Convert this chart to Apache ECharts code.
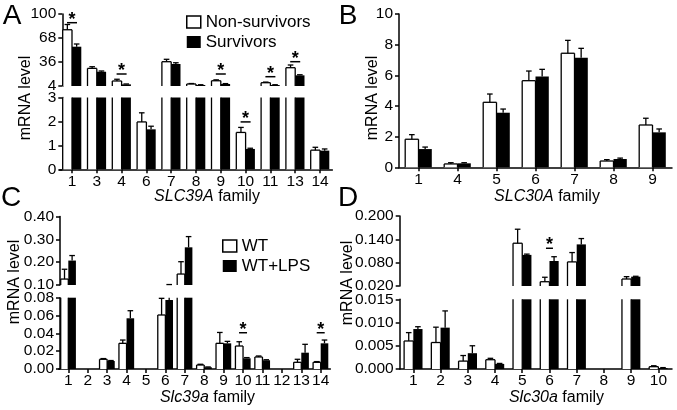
<!DOCTYPE html>
<html><head><meta charset="utf-8">
<script src="https://cdn.jsdelivr.net/npm/echarts@6/dist/echarts.min.js"></script>
<style>html,body{margin:0;padding:0;background:#fff}#c{width:677px;height:410px}</style>
</head><body><div id="c"></div>
<script>
// ---------- Panel A : SLC39A family (human) ----------
const aCats = ['1','3','4','6','7','8','9','10','11','13','14'];
const aNon = [79, 27.5, 10.7, 1.98, 36.4, 6.7, 11, 1.54, 8.4, 28.4, 0.8];
const aNonErr = [7, 2.2, 2.3, 0.38, 3.2, 0.6, 1.2, 0.21, 0.8, 3.6, 0.12];
const aSurv = [56.4, 23, 6.2, 1.67, 33.3, 5.3, 6.7, 0.85, 5.3, 18.2, 0.78];
const aSurvErr = [3.6, 1, 0.5, 0.13, 1.7, 0.4, 0.5, 0.03, 0.4, 0.8, 0.07];
const aSigUpperCats = ['1','4','9','11','13'];
const aSigUpperY = [88.4, 20, 20, 16.4, 36.4];
const aSigLowerCats = ['10'];
const aSigLowerY = [1.98];
const aUpperTicks = [4, 100, 32];   // min, max, interval
const aLowerTicks = [0, 3, 1];

// ---------- Panel B : SLC30A family (human) ----------
const bCats = ['1','4','5','6','7','8','9'];
const bNon = [1.83, 0.22, 4.24, 5.65, 7.44, 0.41, 2.76];
const bNonErr = [0.3, 0.08, 0.54, 0.63, 0.84, 0.09, 0.44];
const bSurv = [1.19, 0.26, 3.56, 5.93, 7.15, 0.54, 2.28];
const bSurvErr = [0.13, 0.04, 0.24, 0.46, 0.61, 0.06, 0.22];
const bTicks = [0, 10, 2];

// ---------- Panel C : Slc39a family (mouse) ----------
const cCats = ['1','2','3','4','5','6','7','8','9','10','11','12','13','14'];
const cWT = [0.126, null, 0.0109, 0.0288, null, 0.0606, 0.148, 0.0045, 0.0288, 0.0258, 0.0135, null, 0.0075, 0.0075];
const cWTErr = [0.043, null, 0.0008, 0.0037, null, 0.0187, 0.054, 0.0008, 0.0122, 0.0048, 0.0011, null, 0.0034, 0.0008];
const cLPS = [0.207, null, 0.009, 0.0569, null, 0.0774, 0.265, 0.002, 0.0288, 0.012, 0.0098, null, 0.0183, 0.0288];
const cLPSErr = [0.022, null, 0.0005, 0.0085, null, 0.0246, 0.047, 0.0003, 0.0022, 0.0008, 0.0006, null, 0.0094, 0.0037];
const cSigLowerCats = ['10','14'];
const cSigLowerY = [0.0407, 0.0407];
const cUpperTicks = [0.1, 0.4, 0.1];
const cLowerTicks = [0, 0.08, 0.02];

// ---------- Panel D : Slc30a family (mouse) ----------
const dCats = ['1','2','3','4','5','6','7','8','9','10'];
const dWT = [0.00603, 0.0057, 0.0017, 0.002, 0.13, 0.031, 0.082, null, 0.038, 0.0005];
const dWTErr = [0.0018, 0.0033, 0.0012, 0.0003, 0.036, 0.0115, 0.024, null, 0.006, 0.0002];
const dLPS = [0.0086, 0.0089, 0.0034, 0.0011, 0.1, 0.0843, 0.127, null, 0.044, 0.0002];
const dLPSErr = [0.0005, 0.0036, 0.0016, 0.0001, 0.002, 0.011, 0.015, null, 0.001, 0.0001];
const dSigUpperCats = ['6'];
const dSigUpperY = [0.117];
const dUpperTicks = [0.02, 0.2, 0.06];
const dLowerTicks = [0, 0.015, 0.005];

const FONT = '"Liberation Sans", Arial, Helvetica, sans-serif';
const TICKFS = 15.5;
const grids = [], xAxes = [], yAxes = [], series = [];

function addGrid(g) {
  const idx = grids.length;
  grids.push({left: g.left, top: g.top, width: g.width, height: g.height, outerBoundsMode: 'none', containLabel: false});
  xAxes.push({
    type: 'category', gridIndex: idx, data: g.cats, show: g.showX,
    axisLine: {show: true, lineStyle: {color: '#000', width: 1.5}},
    axisTick: {show: true, alignWithLabel: true, length: 4, lineStyle: {color: '#000', width: 1.5}},
    axisLabel: {show: true, interval: 0, margin: 4, color: '#000', fontSize: TICKFS, fontFamily: FONT},
    splitLine: {show: false}
  });
  yAxes.push({
    type: 'value', gridIndex: idx, min: g.ticks[0], max: g.ticks[1], interval: g.ticks[2],
    offset: g.yOffset || 0,
    axisLine: {show: true, lineStyle: {color: '#000', width: 1.5}},
    axisTick: {show: true, length: 4, lineStyle: {color: '#000', width: 1.5}},
    axisLabel: {show: true, margin: 6, color: '#000', fontSize: TICKFS, fontFamily: FONT,
      formatter: v => g.dec ? Number(v).toFixed(g.dec) : String(Math.round(v))},
    splitLine: {show: false}
  });
  return idx;
}

function addBars(idx, name, data, white, bw) {
  series.push({
    type: 'bar', name, xAxisIndex: idx, yAxisIndex: idx, data: data.map(v => v == null ? '-' : v),
    barWidth: bw, barGap: '0%', clip: true, silent: true,
    itemStyle: white ? {color: '#fff', borderWidth: 0} : {color: '#000', borderWidth: 0}
  });
}

// outline of the open (white) bars, clipped to the grid so broken bars stay open at the break
function addOutline(idx, vals, bw) {
  const data = [];
  vals.forEach((v, i) => { if (v != null) data.push([i, v]); });
  series.push({
    type: 'custom', xAxisIndex: idx, yAxisIndex: idx, data, silent: true, z: 3,
    renderItem(params, api) {
      const cs = params.coordSys;
      const top = cs.y, bot = cs.y + cs.height;
      const cv = api.coord([api.value(0), api.value(1)]);
      const c0 = api.coord([api.value(0), 0]);
      const x1 = cv[0] - bw, x2 = cv[0];
      const yt = Math.max(Math.min(cv[1], bot), top);
      const yb = Math.max(Math.min(c0[1], bot), top);
      const ch = [];
      const st = {stroke: '#000', lineWidth: 1.3, fill: null};
      if (yb - yt > 0.2) {
        ch.push({type: 'line', shape: {x1: x1, y1: yb, x2: x1, y2: yt}, style: st});
        ch.push({type: 'line', shape: {x1: x2, y1: yb, x2: x2, y2: yt}, style: st});
        if (cv[1] >= top && cv[1] <= bot) ch.push({type: 'line', shape: {x1: x1, y1: cv[1], x2: x2, y2: cv[1]}, style: st});
      }
      return {type: 'group', children: ch};
    }
  });
}

function addErr(idx, vals, errs, side, bw) {
  const data = [];
  vals.forEach((v, i) => { if (v != null) data.push([i, v, v + errs[i]]); });
  series.push({
    type: 'custom', xAxisIndex: idx, yAxisIndex: idx, data, silent: true, z: 3,
    renderItem(params, api) {
      const cs = params.coordSys;
      const c0 = api.coord([api.value(0), api.value(1)]);
      const c1 = api.coord([api.value(0), api.value(2)]);
      const x = c0[0] + side * bw / 2;
      const top = cs.y, bot = cs.y + cs.height;
      const ya = Math.max(Math.min(c0[1], bot), top);
      const yb = Math.max(Math.min(c1[1], bot), top);
      const ch = [];
      const st = {stroke: '#000', lineWidth: 1.3, fill: null};
      if (ya - yb > 0.2) ch.push({type: 'line', shape: {x1: x, y1: ya, x2: x, y2: yb}, style: st});
      if (c1[1] >= top - 0.5 && c1[1] <= bot) ch.push({type: 'line', shape: {x1: x - 2.8, y1: c1[1], x2: x + 2.8, y2: c1[1]}, style: st});
      return {type: 'group', children: ch};
    }
  });
}

function addSig(idx, cats, ys, catList, halfW) {
  const data = cats.map((c, i) => [catList.indexOf(c), ys[i]]);
  series.push({
    type: 'custom', xAxisIndex: idx, yAxisIndex: idx, data, silent: true, z: 4,
    renderItem(params, api) {
      const p = api.coord([api.value(0), api.value(1)]);
      return {type: 'group', children: [
        {type: 'line', shape: {x1: p[0] - halfW, y1: p[1], x2: p[0] + halfW, y2: p[1]}, style: {stroke: '#000', lineWidth: 1.5}},
        {type: 'text', x: p[0], y: p[1] - 3, style: {text: '*', x: 0, y: 0, fill: '#000',
          font: 'bold 18px ' + FONT, textAlign: 'center', textVerticalAlign: 'middle', align: 'center', verticalAlign: 'middle'}}
      ]};
    }
  });
}

function panel(p) {
  p.parts.forEach(part => {
    const idx = addGrid(Object.assign({cats: p.cats, left: p.left, width: p.width, yOffset: p.yOffset, dec: p.dec}, part));
    p.bars.forEach((b, k) => addBars(idx, b[0], b[1], k === 0, p.bw));
    addOutline(idx, p.bars[0][1], p.bw);
    p.bars.forEach((b, k) => addErr(idx, b[1], b[2], k === 0 ? -1 : 1, p.bw));
    if (part.sig) addSig(idx, part.sig[0], part.sig[1], p.cats, p.sigW);
  });
}

panel({cats: aCats, left: 59.6, width: 272.8, yOffset: -2.7, bw: 9.3, sigW: 5, dec: 0,
  bars: [['Non-survivors', aNon, aNonErr], ['Survivors', aSurv, aSurvErr]],
  parts: [
    {top: 14, height: 72, ticks: aUpperTicks, showX: false, sig: [aSigUpperCats, aSigUpperY]},
    {top: 97.5, height: 71.8, ticks: aLowerTicks, showX: true, sig: [aSigLowerCats, aSigLowerY]}
  ]});
panel({cats: bCats, left: 399, width: 273, yOffset: 0, bw: 13.3, sigW: 5, dec: 0,
  bars: [['Non-survivors', bNon, bNonErr], ['Survivors', bSurv, bSurvErr]],
  parts: [{top: 14, height: 153.3, ticks: bTicks, showX: true}]});
panel({cats: cCats, left: 58.6, width: 271.8, yOffset: -1.4, bw: 7.6, sigW: 4, dec: 2,
  bars: [['WT', cWT, cWTErr], ['WT+LPS', cLPS, cLPSErr]],
  parts: [
    {top: 216.5, height: 68.5, ticks: cUpperTicks, showX: false},
    {top: 297.7, height: 71.3, ticks: cLowerTicks, showX: true, sig: [cSigLowerCats, cSigLowerY]}
  ]});
panel({cats: dCats, left: 399.7, width: 272.3, yOffset: 0, bw: 9.2, sigW: 3.5, dec: 3,
  bars: [['WT', dWT, dWTErr], ['WT+LPS', dLPS, dLPSErr]],
  parts: [
    {top: 216, height: 70, ticks: dUpperTicks, showX: false, sig: [dSigUpperCats, dSigUpperY]},
    {top: 299.3, height: 69.7, ticks: dLowerTicks, showX: true}
  ]});

function txt(x, y, text, size, opts) {
  return Object.assign({type: 'text', x, y, silent: true, style: Object.assign({
    text, fill: '#000', fontSize: size, fontFamily: FONT,
    textAlign: 'center', textVerticalAlign: 'middle'}, (opts && opts.style) || {})}, (opts && opts.el) || {});
}
const ital = {i: {fontStyle: 'italic', fontSize: 16, fontFamily: FONT, fill: '#000'}, n: {fontSize: 16, fontFamily: FONT, fill: '#000'}};
const graphic = [
  txt(12, 16, 'A', 28), txt(348, 16, 'B', 28), txt(11, 198, 'C', 28), txt(348, 198, 'D', 28),
  txt(26, 98, 'mRNA level', 16, {el: {rotation: Math.PI / 2}}),
  txt(372.5, 98, 'mRNA level', 16, {el: {rotation: Math.PI / 2}}),
  txt(15, 282, 'mRNA level', 16, {el: {rotation: Math.PI / 2}}),
  txt(347.5, 283, 'mRNA level', 16, {el: {rotation: Math.PI / 2}}),
  txt(207, 197, '{i|SLC39A}{n| family}', 16, {style: {rich: ital}}),
  txt(547, 197, '{i|SLC30A}{n| family}', 16, {style: {rich: ital}}),
  txt(207.5, 398, '{i|Slc39a}{n| family}', 16, {style: {rich: ital}}),
  txt(556.5, 398, '{i|Slc30a}{n| family}', 16, {style: {rich: ital}})
];

const legendBase = {orient: 'vertical', itemWidth: 14, itemHeight: 12, itemGap: 2, padding: 0, selectedMode: false,
  icon: 'rect', textStyle: {fontSize: 17, fontFamily: FONT, color: '#000', lineHeight: 18}};
const legW = {color: '#fff', borderColor: '#000', borderWidth: 1.5};
const legB = {color: '#000', borderColor: '#000', borderWidth: 0};

const chart = echarts.init(document.getElementById('c'), null, {renderer: 'canvas'});
chart.setOption({
  animation: false,
  backgroundColor: '#fff',
  grid: grids, xAxis: xAxes, yAxis: yAxes, series,
  legend: [
    Object.assign({}, legendBase, {left: 186, top: 13, data: [{name: 'Non-survivors', itemStyle: legW}, {name: 'Survivors', itemStyle: legB}]}),
    Object.assign({}, legendBase, {left: 222, top: 237, data: [{name: 'WT', itemStyle: legW}, {name: 'WT+LPS', itemStyle: legB}]})
  ],
  graphic
});
</script></body></html>
